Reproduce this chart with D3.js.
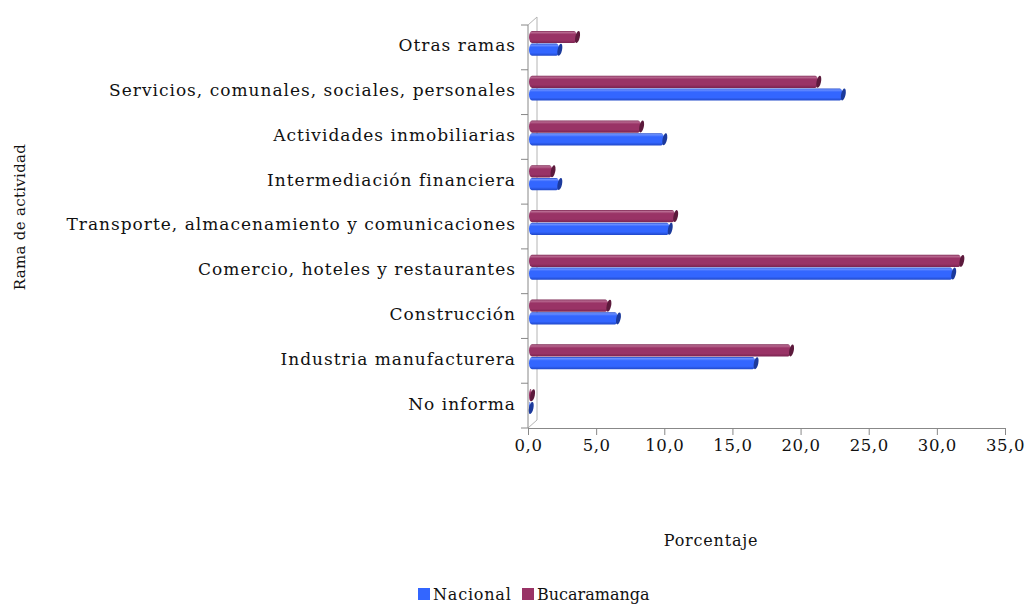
<!DOCTYPE html>
<html>
<head>
<meta charset="utf-8">
<script src="https://cdn.jsdelivr.net/npm/d3@7"></script>
<style>
  body { margin: 0; background: #fff; }
  text { font-family: "DejaVu Serif", "Liberation Serif", serif; fill: #111; }
</style>
</head>
<body>
<svg id="chart" width="1028" height="605"></svg>
<script>
// data (percent)
const categories = [
  'Otras ramas',
  'Servicios, comunales, sociales, personales',
  'Actividades inmobiliarias',
  'Intermediación financiera',
  'Transporte, almacenamiento y comunicaciones',
  'Comercio, hoteles y restaurantes',
  'Construcción',
  'Industria manufacturera',
  'No informa'
];
const nacional    = [2.3, 23.1, 10.0, 2.3, 10.4, 31.2, 6.6, 16.7, 0.2];
const bucaramanga = [3.6, 21.3, 8.3, 1.8, 10.8, 31.8, 5.9, 19.3, 0.3];
const seriesNames = ['Bucaramanga', 'Nacional'];
const xTicks = [0, 5, 10, 15, 20, 25, 30, 35];

const colors = {
  Nacional:    { base: '#3366ff', light: '#6b90ff', dark: '#2148c8', cap: '#1c3a9c' },
  Bucaramanga: { base: '#993366', light: '#b86a91', dark: '#7a2450', cap: '#5c1a3c' }
};

const svg = d3.select('#chart');
const depth = { dx: 9, dy: -8 };

const x = d3.scaleLinear().domain([0, 35]).range([528, 1005]);
const y = d3.scaleBand().domain(categories).range([25, 428]);
const ySeries = d3.scaleBand().domain(seriesNames)
  .range([y.bandwidth() * 0.12, y.bandwidth() * 0.70]).padding(0.04);

// gradients for the tube look
const defs = svg.append('defs');
seriesNames.forEach(name => {
  const c = colors[name];
  const g = defs.append('linearGradient')
    .attr('id', 'grad-' + name).attr('x1', 0).attr('y1', 0).attr('x2', 0).attr('y2', 1);
  g.append('stop').attr('offset', '0%').attr('stop-color', c.dark);
  g.append('stop').attr('offset', '12%').attr('stop-color', c.light);
  g.append('stop').attr('offset', '30%').attr('stop-color', c.base);
  g.append('stop').attr('offset', '75%').attr('stop-color', c.base);
  g.append('stop').attr('offset', '100%').attr('stop-color', c.dark);
});

// back wall & floor edges
const x0 = x(0), yTop = y.range()[0], yBot = y.range()[1];
const wall = svg.append('g').attr('stroke', '#b4b4b4').attr('fill', 'none');
wall.append('line')
  .attr('x1', x0 + depth.dx).attr('y1', yTop + depth.dy)
  .attr('x2', x0 + depth.dx).attr('y2', yBot + depth.dy);
wall.append('line')
  .attr('x1', x0).attr('y1', yTop)
  .attr('x2', x0 + depth.dx).attr('y2', yTop + depth.dy);
wall.append('line')
  .attr('x1', x0).attr('y1', yBot)
  .attr('x2', x0 + depth.dx).attr('y2', yBot + depth.dy);

// front axes
const xAxis = d3.axisBottom(x).tickValues(xTicks).tickSize(7)
  .tickFormat(d => d3.format('.1f')(d).replace('.', ','));
const gx = svg.append('g').attr('transform', `translate(0,${yBot})`).call(xAxis);
gx.select('.domain').attr('stroke', '#888');
gx.selectAll('.tick line').attr('stroke', '#888');
gx.selectAll('.tick text').attr('font-size', 16.5).attr('dy', '0.78em')
  .style('font-family', '"DejaVu Serif", serif').style('letter-spacing', '0.6px')
  .attr('fill', '#111');

const bounds = categories.map(c => y(c)).concat([yBot]);
const gy = svg.append('g').attr('stroke', '#888');
gy.append('line').attr('x1', x0).attr('x2', x0).attr('y1', yTop).attr('y2', yBot);
gy.selectAll('line.tk').data(bounds).join('line').attr('class', 'tk')
  .attr('x1', x0 - 7).attr('x2', x0).attr('y1', d => d).attr('y2', d => d);

svg.append('g').selectAll('text').data(categories).join('text')
  .attr('x', 516).attr('y', d => y(d) + y.bandwidth() / 2 - 2)
  .attr('dy', '0.35em').attr('text-anchor', 'end').attr('font-size', 17)
  .style('letter-spacing', '1px')
  .text(d => d);

// bars
const rows = [];
categories.forEach((c, i) => {
  rows.push({ cat: c, series: 'Bucaramanga', value: bucaramanga[i] });
  rows.push({ cat: c, series: 'Nacional', value: nacional[i] });
});

const bars = svg.append('g').selectAll('g').data(rows).join('g')
  .attr('transform', d => `translate(0,${y(d.cat) + ySeries(d.series)})`);
const bh = ySeries.bandwidth();
bars.append('rect')
  .attr('x', x0 + 1).attr('y', 0)
  .attr('width', d => Math.max(x(d.value) - x0 - 1, 1)).attr('height', bh)
  .attr('rx', 3).attr('ry', bh / 2)
  .attr('fill', d => `url(#grad-${d.series})`);
bars.append('ellipse')
  .attr('cx', d => x(d.value) + 0.5).attr('cy', bh / 2)
  .attr('rx', 2.2).attr('ry', bh / 2)
  .attr('transform', d => `rotate(12,${x(d.value) + 0.5},${bh / 2})`)
  .attr('fill', d => colors[d.series].cap);

// axis titles
svg.append('text').attr('x', 711).attr('y', 546).attr('text-anchor', 'middle')
  .attr('font-size', 16).style('letter-spacing', '0.8px').text('Porcentaje');
svg.append('text').attr('transform', 'translate(25,217) rotate(-90)')
  .attr('text-anchor', 'middle').attr('font-size', 15).style('letter-spacing', '0.3px')
  .text('Rama de actividad');

// legend
const legend = svg.append('g').attr('transform', 'translate(418,594)');
const legendItems = [
  { name: 'Nacional', dx: 0, spacing: '0.8px' },
  { name: 'Bucaramanga', dx: 104, spacing: '0px' }
];
legendItems.forEach(it => {
  const g = legend.append('g').attr('transform', `translate(${it.dx},0)`);
  g.append('rect').attr('x', 0).attr('y', -6).attr('width', 12).attr('height', 12)
    .attr('fill', colors[it.name].base);
  g.append('text').attr('x', 15).attr('y', 0).attr('dy', '0.35em')
    .attr('font-size', 16).style('letter-spacing', it.spacing).text(it.name);
});
</script>
</body>
</html>
